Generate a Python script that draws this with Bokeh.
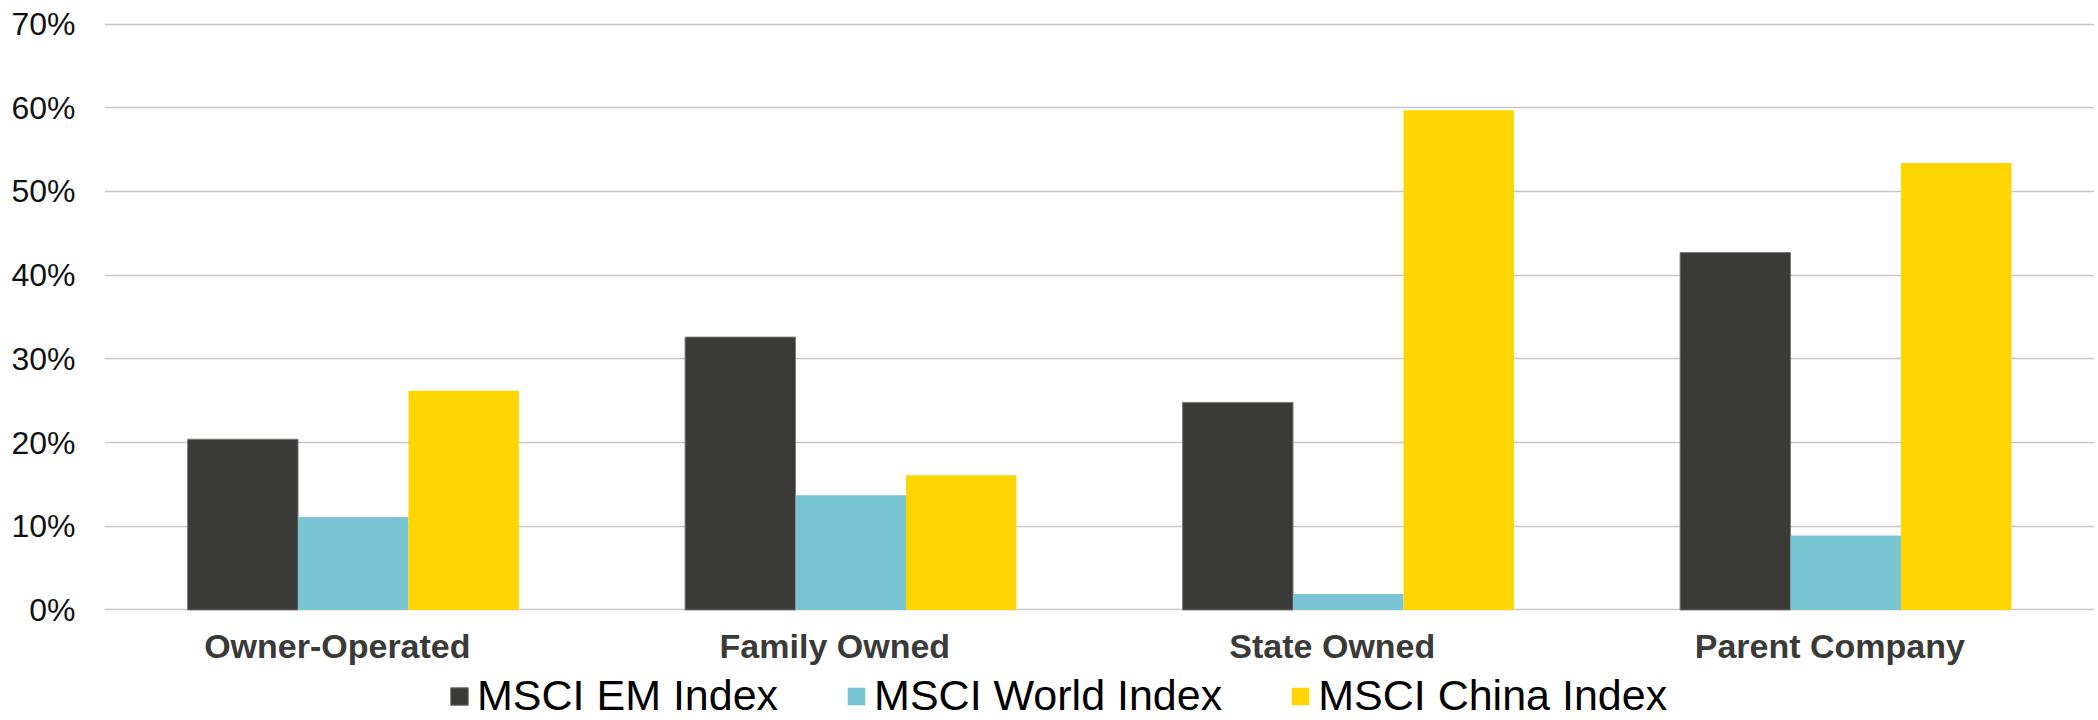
from bokeh.plotting import figure
from bokeh.models import ColumnDataSource, Range1d, FixedTicker, PrintfTickFormatter, Legend, LegendItem
from bokeh.core.properties import value
from bokeh.transform import dodge
from bokeh.embed import file_html
from bokeh.resources import INLINE

categories = ["Owner-Operated", "Family Owned", "State Owned", "Parent Company"]
msci_em = [20.4, 32.6, 24.8, 42.7]
msci_world = [11.1, 13.7, 1.9, 8.9]
msci_china = [26.2, 16.1, 59.7, 53.4]
series_names = ["MSCI EM Index", "MSCI World Index", "MSCI China Index"]
y_ticks = [0, 10, 20, 30, 40, 50, 60, 70]

colors = ["#3A3B38", "#78C5D4", "#FFD500"]
FONT = "Liberation Sans"

xpos = [i + 0.5 for i in range(len(categories))]
source = ColumnDataSource(dict(x=xpos, em=msci_em, world=msci_world, china=msci_china))

# frame reaches to the bottom of the canvas; the space below 0% holds
# the category labels and the legend
p = figure(
    x_range=Range1d(0, len(categories)),
    y_range=Range1d(-13.2, 70.3),
    width=2098, height=720,
    output_backend="svg", toolbar_location=None,
    min_border_left=104, min_border_right=4, min_border_top=21, min_border_bottom=0,
)

bw = 0.222
r1 = p.vbar(x=dodge("x", -bw), top="em", width=bw, source=source,
            fill_color=colors[0], line_color="#7a7b78", line_width=1)
r2 = p.vbar(x=dodge("x", 0), top="world", width=bw, source=source,
            fill_color=colors[1], line_color=None)
r3 = p.vbar(x=dodge("x", bw), top="china", width=bw, source=source,
            fill_color=colors[2], line_color=None)

p.outline_line_color = None
p.xgrid.grid_line_color = None
p.ygrid.grid_line_color = "#C6C6C6"
p.ygrid.grid_line_width = 1.5

p.yaxis.ticker = FixedTicker(ticks=y_ticks)
p.yaxis.formatter = PrintfTickFormatter(format="%d%%")
p.yaxis.axis_line_color = None
p.yaxis.major_tick_line_color = None
p.yaxis.minor_tick_line_color = None
p.yaxis.major_label_standoff = 23
p.yaxis.major_label_text_font = FONT
p.yaxis.major_label_text_font_size = "32px"
p.yaxis.major_label_text_color = "#111111"

p.xaxis.visible = False

# category labels (sit slightly left of the group centres in the original)
label_shift = 0.032
label_y = -4.3
p.text(x=[x - label_shift for x in xpos], y=[label_y] * len(categories), text=categories,
       text_font=value(FONT), text_font_size="34px", text_font_style="bold",
       text_color="#3A3B38", text_align="center", text_baseline="middle")

legend = Legend(
    items=[LegendItem(label=series_names[0], renderers=[r1]),
           LegendItem(label=series_names[1], renderers=[r2]),
           LegendItem(label=series_names[2], renderers=[r3])],
    orientation="horizontal",
    location=(344, 0),
    glyph_width=22, glyph_height=22,
    label_standoff=7, spacing=67,
    padding=0, margin=0,
    border_line_color=None, background_fill_alpha=0,
    label_text_font=FONT, label_text_font_size="43px", label_text_color="#000000",
)
p.add_layout(legend, "center")

open("out.html", "w").write(file_html(p, INLINE))
